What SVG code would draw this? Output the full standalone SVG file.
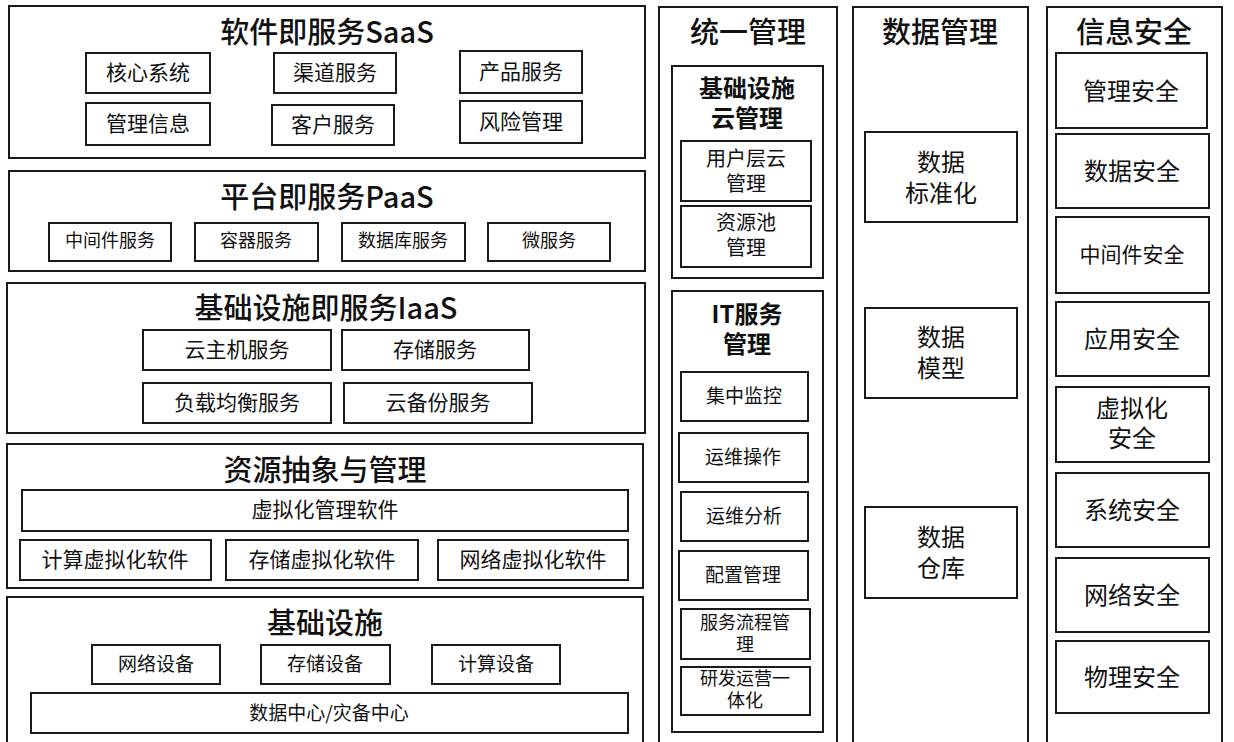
<svg xmlns="http://www.w3.org/2000/svg" width="1234" height="742" viewBox="0 0 1234 742">
<style>
rect{fill:#fff;stroke:#1a1a1a;stroke-width:2}
text{font-family:"Noto Sans CJK SC","Noto Sans",sans-serif;fill:#111;text-anchor:middle;dominant-baseline:central;transform:translateY(-2px)}
.t{font-size:29px;font-weight:500}
.st{font-size:24px;font-weight:bold}
.a{font-size:21px}
.a2{font-size:20px}
.b{font-size:18px}
.c{font-size:19px}
.c2{font-size:18px}
.d{font-size:24px}
</style>
<rect x="0" y="0" width="1234" height="742" style="stroke:none"/>
<g id="saas">
<rect x="9" y="6" width="636" height="152"/>
<text class="t" x="327" y="32">软件即服务SaaS</text>
<g id="saas-core"><rect x="86" y="53" width="124" height="40"/><text class="a" x="148" y="73">核心系统</text></g>
<g id="saas-channel"><rect x="274" y="53" width="122" height="40"/><text class="a" x="335" y="73">渠道服务</text></g>
<g id="saas-product"><rect x="460" y="51" width="122" height="42"/><text class="a" x="521" y="72">产品服务</text></g>
<g id="saas-mis"><rect x="86" y="103" width="124" height="42"/><text class="a" x="148" y="124">管理信息</text></g>
<g id="saas-customer"><rect x="272" y="105" width="122" height="40"/><text class="a" x="333" y="125">客户服务</text></g>
<g id="saas-risk"><rect x="460" y="101" width="122" height="42"/><text class="a" x="521" y="122">风险管理</text></g>
</g>
<g id="paas">
<rect x="9" y="171" width="636" height="100"/>
<text class="t" x="327" y="197">平台即服务PaaS</text>
<g id="paas-mw"><rect x="49" y="223" width="122" height="38"/><text class="b" x="110" y="241">中间件服务</text></g>
<g id="paas-container"><rect x="195" y="223" width="123" height="38"/><text class="b" x="256" y="241">容器服务</text></g>
<g id="paas-db"><rect x="342" y="223" width="123" height="38"/><text class="b" x="403" y="241">数据库服务</text></g>
<g id="paas-micro"><rect x="488" y="223" width="122" height="38"/><text class="b" x="549" y="241">微服务</text></g>
</g>
<g id="iaas">
<rect x="7" y="283" width="638" height="150"/>
<text class="t" x="326" y="308">基础设施即服务IaaS</text>
<g id="iaas-host"><rect x="143" y="330" width="188" height="40"/><text class="a" x="237" y="350">云主机服务</text></g>
<g id="iaas-storage"><rect x="342" y="330" width="187" height="40"/><text class="a" x="435" y="350">存储服务</text></g>
<g id="iaas-lb"><rect x="143" y="383" width="188" height="40"/><text class="a" x="237" y="403">负载均衡服务</text></g>
<g id="iaas-backup"><rect x="344" y="383" width="188" height="40"/><text class="a" x="438" y="403">云备份服务</text></g>
</g>
<g id="resource">
<rect x="7" y="444" width="636" height="144"/>
<text class="t" x="325" y="470">资源抽象与管理</text>
<g id="res-vmgmt"><rect x="22" y="490" width="606" height="41"/><text class="a" x="325" y="510">虚拟化管理软件</text></g>
<g id="res-compute"><rect x="20" y="540" width="191" height="40"/><text class="a" x="115" y="560">计算虚拟化软件</text></g>
<g id="res-storage"><rect x="226" y="540" width="192" height="40"/><text class="a" x="322" y="560">存储虚拟化软件</text></g>
<g id="res-network"><rect x="438" y="540" width="190" height="40"/><text class="a" x="533" y="560">网络虚拟化软件</text></g>
</g>
<g id="infra">
<rect x="7" y="597" width="636" height="155"/>
<text class="t" x="325" y="623">基础设施</text>
<g id="infra-net"><rect x="92" y="645" width="128" height="39"/><text class="c" x="156" y="664">网络设备</text></g>
<g id="infra-storage"><rect x="261" y="645" width="129" height="39"/><text class="c" x="325" y="664">存储设备</text></g>
<g id="infra-compute"><rect x="432" y="645" width="128" height="39"/><text class="c" x="496" y="664">计算设备</text></g>
<g id="infra-dc"><rect x="31" y="693" width="597" height="40"/><text class="c" x="329" y="713">数据中心/灾备中心</text></g>
</g>
<g id="unified">
<rect x="659" y="7" width="178" height="745"/>
<text class="t" x="748" y="32">统一管理</text>
<g id="cloud-mgmt">
<rect x="672" y="66" width="151" height="212"/>
<text class="st" x="747" y="88">基础设施</text>
<text class="st" x="747" y="118">云管理</text>
<g id="user-cloud"><rect x="681" y="141" width="130" height="60"/><text class="a2" x="746" y="159">用户层云</text><text class="a2" x="746" y="184">管理</text></g>
<g id="pool"><rect x="681" y="206" width="130" height="61"/><text class="a2" x="746" y="223">资源池</text><text class="a2" x="746" y="248">管理</text></g>
</g>
<g id="it-mgmt">
<rect x="672" y="291" width="151" height="441"/>
<text class="st" x="747" y="314">IT服务</text>
<text class="st" x="747" y="344">管理</text>
<g id="it-monitor"><rect x="681" y="372" width="127" height="49"/><text class="c" x="744" y="396">集中监控</text></g>
<g id="it-ops"><rect x="679" y="433" width="129" height="49"/><text class="c" x="743" y="457">运维操作</text></g>
<g id="it-analysis"><rect x="681" y="492" width="127" height="49"/><text class="c" x="744" y="516">运维分析</text></g>
<g id="it-config"><rect x="679" y="551" width="129" height="49"/><text class="c" x="743" y="575">配置管理</text></g>
<g id="it-flow"><rect x="681" y="609" width="129" height="50"/><text class="c2" x="745" y="623">服务流程管</text><text class="c2" x="745" y="645">理</text></g>
<g id="it-devops"><rect x="681" y="667" width="129" height="48"/><text class="c2" x="745" y="679">研发运营一</text><text class="c2" x="745" y="701">体化</text></g>
</g>
</g>
<g id="data">
<rect x="853" y="7" width="175" height="745"/>
<text class="t" x="940" y="32">数据管理</text>
<g id="data-std"><rect x="865" y="132" width="152" height="90"/><text class="d" x="941" y="162">数据</text><text class="d" x="941" y="193">标准化</text></g>
<g id="data-model"><rect x="865" y="308" width="152" height="90"/><text class="d" x="941" y="337">数据</text><text class="d" x="941" y="368">模型</text></g>
<g id="data-dw"><rect x="865" y="507" width="152" height="91"/><text class="d" x="941" y="537">数据</text><text class="d" x="941" y="568">仓库</text></g>
</g>
<g id="security">
<rect x="1047" y="7" width="175" height="745"/>
<text class="t" x="1134" y="32">信息安全</text>
<g id="sec-mgmt"><rect x="1056" y="53" width="151" height="75"/><text class="d" x="1131" y="91">管理安全</text></g>
<g id="sec-data"><rect x="1056" y="134" width="153" height="74"/><text class="d" x="1132" y="171">数据安全</text></g>
<g id="sec-mw"><rect x="1056" y="217" width="153" height="76"/><text class="a" x="1132" y="255">中间件安全</text></g>
<g id="sec-app"><rect x="1056" y="302" width="153" height="74"/><text class="d" x="1132" y="339">应用安全</text></g>
<g id="sec-virt"><rect x="1056" y="387" width="153" height="75"/><text class="d" x="1132" y="408">虚拟化</text><text class="d" x="1132" y="438">安全</text></g>
<g id="sec-sys"><rect x="1056" y="473" width="153" height="74"/><text class="d" x="1132" y="510">系统安全</text></g>
<g id="sec-net"><rect x="1056" y="558" width="153" height="74"/><text class="d" x="1132" y="595">网络安全</text></g>
<g id="sec-phys"><rect x="1056" y="641" width="153" height="72"/><text class="d" x="1132" y="677">物理安全</text></g>
</g>
<g id="connectors"/>
</svg>
